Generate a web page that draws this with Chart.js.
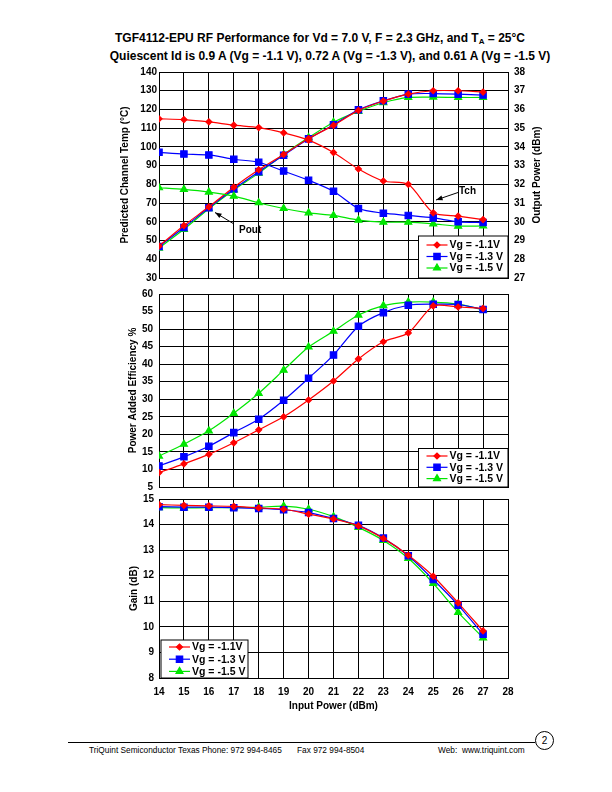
<!DOCTYPE html>
<html>
<head>
<meta charset="utf-8">
<script src="https://cdn.jsdelivr.net/npm/chart.js@4.4.0/dist/chart.umd.min.js"></script>
<style>
  body { margin: 0; width: 612px; height: 792px; background: #fff; position: relative; font-family: Arial, "Liberation Sans", sans-serif; }
  canvas { position: absolute; }
  .ttl { position: absolute; left: 0; width: 612px; text-align: center; font-weight: bold; font-size: 12px; white-space: nowrap; }
  .ttl sub { font-size: 8px; vertical-align: -2px; }
  .foot { position: absolute; top: 745px; font-size: 8.3px; white-space: nowrap; }
  #rule { position: absolute; left: 68px; top: 742px; width: 467px; height: 0; border-top: 1px solid #000; }
  #page { position: absolute; left: 535px; top: 731px; width: 17px; height: 17px; border: 1px solid #000; border-radius: 50%; font-size: 10px; text-align: center; line-height: 17px; }
</style>
</head>
<body>
<div class="ttl" style="top:31px;left:14px">TGF4112-EPU RF Performance for Vd = 7.0 V, F = 2.3 GHz, and T<sub>A</sub> = 25°C</div>
<div class="ttl" style="top:49px;left:24px">Quiescent Id is 0.9 A (Vg = -1.1 V), 0.72 A (Vg = -1.3 V), and 0.61 A (Vg = -1.5 V)</div>

<canvas id="chartTop" width="431" height="230" style="left:119px;top:60px"></canvas>
<canvas id="chartPae" width="423" height="217" style="left:127px;top:282px"></canvas>
<canvas id="chartGain" width="422" height="225" style="left:128px;top:487px"></canvas>

<div id="rule"></div>
<div id="page">2</div>
<div class="foot" style="left:89px">TriQuint Semiconductor Texas Phone: 972 994-8465</div>
<div class="foot" style="left:297px">Fax 972 994-8504</div>
<div class="foot" style="left:438px">Web:</div>
<div class="foot" style="left:462px">www.triquint.com</div>

<script>
// input power (dBm), x axis
const inputPower = [14, 15, 16, 17, 18, 19, 20, 21, 22, 23, 24, 25, 26, 27]

// predicted channel temp (C)
const tchRed   = [115.0, 114.6, 113.4, 111.6, 110.3, 107.5, 103.6, 97.0, 88.2, 81.8, 80.0, 64.8, 63.0, 61.2]
const tchBlue  = [97.1, 96.2, 95.7, 93.4, 91.8, 87.1, 82.2, 76.3, 67.1, 64.6, 63.4, 62.1, 60.0, 59.6]
const tchGreen = [78.2, 77.3, 75.9, 73.7, 70.2, 67.1, 64.8, 63.4, 60.9, 59.8, 59.8, 58.9, 57.7, 57.8]

// output power (dBm)
const poutRed   = [28.70, 29.80, 30.80, 31.85, 32.78, 33.60, 34.45, 35.15, 35.95, 36.45, 36.82, 37.00, 37.00, 36.93]
const poutBlue  = [28.68, 29.70, 30.75, 31.75, 32.68, 33.55, 34.43, 35.18, 35.98, 36.46, 36.82, 36.85, 36.82, 36.77]
const poutGreen = [28.60, 29.60, 30.70, 31.70, 32.60, 33.60, 34.50, 35.32, 35.90, 36.36, 36.64, 36.66, 36.64, 36.64]

// power added efficiency %
const paeRed   = [9.1, 11.6, 14.3, 17.6, 21.3, 25.0, 29.8, 35.2, 41.5, 46.4, 48.9, 56.6, 56.3, 55.9]
const paeBlue  = [11.0, 13.6, 16.6, 20.5, 24.3, 29.7, 36.0, 42.6, 50.8, 54.7, 56.8, 57.1, 57.0, 55.6]
const paeGreen = [13.8, 17.2, 21.0, 26.0, 31.7, 38.3, 44.9, 49.4, 54.0, 56.7, 57.7, 57.7, 57.1, 55.5]

// gain (dB)
const gainRed   = [14.78, 14.75, 14.73, 14.71, 14.65, 14.60, 14.41, 14.22, 13.95, 13.46, 12.80, 11.98, 10.94, 9.84]
const gainBlue  = [14.70, 14.68, 14.68, 14.66, 14.63, 14.58, 14.47, 14.24, 13.97, 13.47, 12.78, 11.85, 10.85, 9.71]
const gainGreen = [14.66, 14.65, 14.66, 14.66, 14.68, 14.72, 14.60, 14.31, 13.89, 13.38, 12.68, 11.70, 10.57, 9.57]

// axis ticks
const inputTicks = [14, 28]
const tempTicks = [30, 140, 10]
const poutTicks = [27, 38, 1]
const paeTicks = [5, 60, 5]
const gainTicks = [8, 15, 1]

const legendLabels = ['Vg = -1.1V', 'Vg = -1.3 V', 'Vg = -1.5 V']

const looks = [
  { color: '#ff0000', pointStyle: 'rectRot', radius: 3 },
  { color: '#0000ff', pointStyle: 'rect', radius: 4.5 },
  { color: '#00e600', pointStyle: 'triangle', radius: 4 }
]

const tickFont = { family: 'Arial, "Liberation Sans", sans-serif', size: 10, weight: 'bold' }

const dataset = (ys, k, axis) => ({
  data: ys.map((y, i) => ({ x: inputPower[i], y: y })),
  yAxisID: axis || 'y',
  borderColor: looks[k].color,
  backgroundColor: looks[k].color,
  pointStyle: looks[k].pointStyle,
  pointRadius: looks[k].radius,
  borderWidth: 1.2,
  tension: 0.25
})

// legend box drawn inside the plot
const boxLegend = {
  id: 'boxLegend',
  afterDraw(chart, args, opts) {
    if (!opts.box) return
    const ctx = chart.ctx
    const ox = chart.canvas.offsetLeft, oy = chart.canvas.offsetTop
    const x = opts.box[0] - ox, y = opts.box[1] - oy, w = opts.box[2], h = opts.box[3]
    ctx.save()
    ctx.fillStyle = '#fff'
    ctx.fillRect(x, y, w, h)
    ctx.strokeStyle = '#000'
    ctx.lineWidth = 1
    ctx.strokeRect(x, y, w, h)
    ctx.font = 'bold 10.5px Arial, "Liberation Sans", sans-serif'
    ctx.textBaseline = 'middle'
    legendLabels.forEach((t, i) => {
      const ly = y + opts.first + i * opts.step
      ctx.strokeStyle = looks[i].color
      ctx.fillStyle = looks[i].color
      ctx.lineWidth = 1.2
      ctx.beginPath()
      ctx.moveTo(x + 8, ly)
      ctx.lineTo(x + 29, ly)
      ctx.stroke()
      Chart.helpers.drawPoint(ctx, { pointStyle: looks[i].pointStyle, radius: looks[i].radius, rotation: 0, borderWidth: 1 }, x + 18.5, ly)
      ctx.fillStyle = '#000'
      ctx.fillText(t, x + 31, ly + 0.5)
    })
    ctx.restore()
  }
}

// arrows, labels and the right axis title on the top chart
const notes = {
  id: 'notes',
  afterDraw(chart, args, opts) {
    if (!opts.arrows) return
    const ctx = chart.ctx
    const ox = chart.canvas.offsetLeft, oy = chart.canvas.offsetTop
    ctx.save()
    ctx.font = 'bold 10px Arial, "Liberation Sans", sans-serif'
    ctx.fillStyle = '#000'
    ctx.strokeStyle = '#000'
    ctx.lineWidth = 1
    opts.arrows.forEach(a => {
      const x1 = a.from[0] - ox, y1 = a.from[1] - oy, x2 = a.to[0] - ox, y2 = a.to[1] - oy
      const ang = Math.atan2(y2 - y1, x2 - x1)
      ctx.beginPath()
      ctx.moveTo(x1, y1)
      ctx.lineTo(x2, y2)
      ctx.stroke()
      ctx.beginPath()
      ctx.moveTo(x2, y2)
      ctx.lineTo(x2 - 7 * Math.cos(ang - 0.35), y2 - 7 * Math.sin(ang - 0.35))
      ctx.lineTo(x2 - 7 * Math.cos(ang + 0.35), y2 - 7 * Math.sin(ang + 0.35))
      ctx.closePath()
      ctx.fill()
      ctx.textBaseline = 'middle'
      ctx.textAlign = 'left'
      ctx.fillText(a.text, a.at[0] - ox, a.at[1] - oy)
    })
    if (opts.rightTitle) {
      const r = opts.rightTitle
      ctx.translate(r.at[0] - ox, r.at[1] - oy)
      ctx.rotate(-Math.PI / 2)
      ctx.textAlign = 'center'
      ctx.textBaseline = 'middle'
      ctx.fillText(r.text, 0, 0)
    }
    ctx.restore()
  }
}

const xScale = (showTicks, height) => ({
  type: 'linear',
  min: inputTicks[0],
  max: inputTicks[1],
  grid: { color: '#000', lineWidth: 1, drawTicks: false },
  border: { color: '#000', width: 1 },
  ticks: { display: showTicks, stepSize: 1, color: '#000', font: tickFont, padding: 8, maxRotation: 0 },
  title: { display: showTicks, text: 'Input Power (dBm)', color: '#000', font: tickFont, padding: 0 },
  afterFit: s => { s.height = height }
})

const yScale = (t, title, width, pad) => ({
  type: 'linear',
  position: 'left',
  min: t[0],
  max: t[1],
  grid: { color: '#000', lineWidth: 1, drawTicks: false },
  border: { color: '#000', width: 1 },
  ticks: { stepSize: t[2], color: '#000', font: tickFont, padding: pad },
  title: { display: true, text: title, color: '#000', font: tickFont, padding: 0 },
  afterFit: s => { s.width = width }
})

const baseOptions = (scales, plugins, padding) => ({
  responsive: false,
  animation: false,
  devicePixelRatio: 1,
  layout: { padding: padding },
  scales: scales,
  plugins: Object.assign({ legend: { display: false }, tooltip: { enabled: false } }, plugins)
})

new Chart(document.getElementById('chartTop'), {
  type: 'line',
  data: {
    datasets: [
      dataset(tchRed, 0), dataset(tchBlue, 1), dataset(tchGreen, 2),
      dataset(poutRed, 0, 'y2'), dataset(poutBlue, 1, 'y2'), dataset(poutGreen, 2, 'y2')
    ]
  },
  options: baseOptions({
    x: xScale(false, 0),
    y: yScale(tempTicks, 'Predicted Channel Temp (°C)', 40, 2),
    y2: {
      type: 'linear',
      position: 'right',
      min: poutTicks[0],
      max: poutTicks[1],
      grid: { display: false, drawTicks: false },
      border: { color: '#000', width: 1 },
      ticks: { stepSize: poutTicks[2], color: '#000', font: tickFont, padding: 6 },
      afterFit: s => { s.width = 42 }
    }
  }, {
    boxLegend: { box: [418.5, 236, 89.5, 42], first: 9, step: 11.5 },
    notes: {
      arrows: [
        { from: [234, 224], to: [215, 212.5], text: 'Pout', at: [239, 230] },
        { from: [458, 192.5], to: [436, 200], text: 'Tch', at: [459, 191] }
      ],
      rightTitle: { text: 'Output Power (dBm)', at: [537, 175] }
    }
  }, { top: 12, bottom: 12, left: 0, right: 0 }),
  plugins: [boxLegend, notes]
})

new Chart(document.getElementById('chartPae'), {
  type: 'line',
  data: { datasets: [dataset(paeRed, 0), dataset(paeBlue, 1), dataset(paeGreen, 2)] },
  options: baseOptions({
    x: xScale(false, 0),
    y: yScale(paeTicks, 'Power Added Efficiency %', 32, 6)
  }, {
    boxLegend: { box: [418.5, 448.5, 89.5, 38.5], first: 7.5, step: 11.3 }
  }, { top: 12, bottom: 12, left: 0, right: 42 }),
  plugins: [boxLegend]
})

new Chart(document.getElementById('chartGain'), {
  type: 'line',
  data: { datasets: [dataset(gainRed, 0), dataset(gainBlue, 1), dataset(gainGreen, 2)] },
  options: baseOptions({
    x: xScale(true, 34),
    y: yScale(gainTicks, 'Gain (dB)', 31, 5)
  }, {
    boxLegend: { box: [161, 640, 87, 38], first: 7, step: 12.2 }
  }, { top: 12, bottom: 0, left: 0, right: 42 }),
  plugins: [boxLegend]
})
</script>
</body>
</html>
